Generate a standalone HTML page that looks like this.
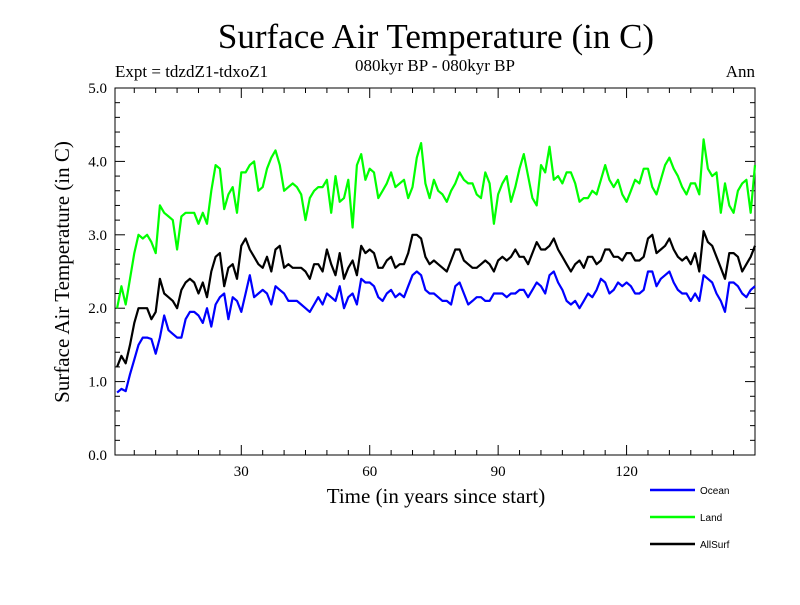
<!DOCTYPE html>
<html><head><meta charset="utf-8"><style>
body{margin:0;background:#fff;}
svg text{font-family:"Liberation Serif",serif;}
</style></head><body>
<svg id="chart" width="800" height="600" xmlns="http://www.w3.org/2000/svg">
<text x="436" y="48" font-size="35" text-anchor="middle">Surface Air Temperature (in C)</text>
<text x="115" y="77" font-size="17">Expt = tdzdZ1-tdxoZ1</text>
<text x="435" y="71" font-size="17" text-anchor="middle">080kyr BP - 080kyr BP</text>
<text x="755" y="77" font-size="17" text-anchor="end">Ann</text>
<text x="436" y="503" font-size="21" text-anchor="middle">Time (in years since start)</text>
<text transform="translate(69,272) rotate(-90)" font-size="21" text-anchor="middle">Surface Air Temperature (in C)</text>
<g id="axes"></g>
<g id="series"></g>
<g id="legend"></g>
</svg>
<script>
const yTicks=[0,1,2,3,4,5];
const yTickLabels=["0.0","1.0","2.0","3.0","4.0","5.0"];
const xTicks=[30,60,90,120];
const xTickLabels=["30","60","90","120"];
const seriesNames=["Ocean","Land","AllSurf"];
const seriesColors=["#0000ff","#00ff00","#000000"];
const ocean=[0.85,0.9,0.87,1.1,1.3,1.5,1.6,1.6,1.58,1.38,1.6,1.9,1.7,1.65,1.6,1.6,1.85,1.95,1.95,1.9,1.8,2.0,1.75,2.05,2.15,2.2,1.85,2.15,2.1,1.95,2.2,2.45,2.15,2.2,2.25,2.2,2.05,2.3,2.25,2.2,2.1,2.1,2.1,2.05,2.0,1.95,2.05,2.15,2.05,2.2,2.15,2.1,2.3,2.0,2.15,2.2,2.05,2.4,2.35,2.35,2.3,2.15,2.1,2.2,2.25,2.15,2.2,2.15,2.3,2.45,2.5,2.45,2.25,2.2,2.2,2.15,2.1,2.1,2.05,2.3,2.35,2.2,2.05,2.1,2.15,2.15,2.1,2.1,2.2,2.2,2.2,2.15,2.2,2.2,2.25,2.25,2.15,2.25,2.35,2.3,2.2,2.45,2.5,2.35,2.25,2.1,2.05,2.1,2.0,2.1,2.2,2.15,2.25,2.4,2.35,2.2,2.25,2.35,2.3,2.35,2.3,2.2,2.2,2.25,2.5,2.5,2.3,2.4,2.45,2.5,2.35,2.25,2.2,2.2,2.1,2.2,2.1,2.45,2.4,2.35,2.2,2.1,1.95,2.35,2.35,2.3,2.2,2.15,2.25,2.3];
const land=[2.0,2.3,2.05,2.4,2.75,3.0,2.95,3.0,2.9,2.75,3.4,3.3,3.25,3.2,2.8,3.25,3.3,3.3,3.3,3.15,3.3,3.15,3.6,3.95,3.9,3.35,3.55,3.65,3.3,3.85,3.85,3.95,4.0,3.6,3.65,3.9,4.05,4.15,3.95,3.6,3.65,3.7,3.65,3.55,3.2,3.5,3.6,3.65,3.65,3.75,3.3,3.8,3.45,3.5,3.75,3.1,3.95,4.1,3.75,3.9,3.85,3.5,3.6,3.7,3.85,3.65,3.7,3.75,3.5,3.65,4.05,4.25,3.7,3.5,3.75,3.6,3.55,3.45,3.6,3.7,3.85,3.75,3.7,3.7,3.55,3.5,3.85,3.7,3.15,3.55,3.7,3.8,3.45,3.65,3.9,4.1,3.8,3.5,3.4,3.95,3.85,4.2,3.75,3.8,3.7,3.85,3.85,3.7,3.45,3.5,3.5,3.6,3.55,3.75,3.95,3.75,3.65,3.75,3.55,3.45,3.6,3.75,3.7,3.9,3.9,3.65,3.55,3.75,3.95,4.05,3.9,3.8,3.65,3.55,3.7,3.7,3.55,4.3,3.9,3.8,3.85,3.3,3.7,3.4,3.3,3.6,3.7,3.75,3.3,3.95];
const allsurf=[1.2,1.35,1.25,1.5,1.8,2.0,2.0,2.0,1.85,1.95,2.4,2.2,2.15,2.1,2.0,2.25,2.35,2.4,2.35,2.2,2.35,2.15,2.5,2.7,2.75,2.3,2.55,2.6,2.4,2.85,2.95,2.8,2.7,2.6,2.55,2.7,2.5,2.8,2.85,2.55,2.6,2.55,2.55,2.55,2.5,2.4,2.6,2.6,2.5,2.8,2.6,2.45,2.75,2.4,2.55,2.65,2.45,2.85,2.75,2.8,2.75,2.55,2.55,2.65,2.7,2.55,2.6,2.6,2.75,3.0,3.0,2.95,2.7,2.6,2.65,2.6,2.55,2.5,2.65,2.8,2.8,2.65,2.6,2.55,2.55,2.6,2.65,2.6,2.5,2.65,2.7,2.65,2.7,2.8,2.7,2.7,2.6,2.75,2.9,2.8,2.8,2.85,2.95,2.8,2.7,2.6,2.5,2.6,2.65,2.55,2.7,2.7,2.6,2.65,2.8,2.8,2.7,2.7,2.65,2.75,2.75,2.65,2.65,2.7,2.95,3.0,2.75,2.8,2.85,2.95,2.8,2.7,2.65,2.7,2.6,2.75,2.5,3.05,2.9,2.85,2.7,2.55,2.4,2.75,2.75,2.7,2.5,2.6,2.7,2.85];
const allSeries=[ocean,land,allsurf];

const NS="http://www.w3.org/2000/svg";
const L=115,R=755,T=88,B=455;
const xMin=0.5,xMax=150,yMin=0,yMax=5;
function xs(v){return L+(v-xMin)/(xMax-xMin)*(R-L);}
function ys(v){return B-(v-yMin)/(yMax-yMin)*(B-T);}
function mk(tag,attrs,parent){const e=document.createElementNS(NS,tag);for(const k in attrs)e.setAttribute(k,attrs[k]);parent.appendChild(e);return e;}
const axes=document.getElementById('axes');
const frame=mk('rect',{x:L,y:T,width:R-L,height:B-T,fill:'none',stroke:'#000','stroke-width':1},axes);


for(let v=0;v<=5.0001;v+=0.2){
  const major=Math.abs(v-Math.round(v))<1e-6;const len=major?10:5;const y=ys(v);
  const t1=mk('line',{x1:L,x2:L+len,y1:y,y2:y,stroke:'#000'},axes);
  
  
  const t2=mk('line',{x1:R,x2:R-len,y1:y,y2:y,stroke:'#000'},axes);
  
  
}
yTicks.forEach((v,i)=>{
  const t=mk('text',{x:L-8,y:ys(v)+5,'font-size':15,'text-anchor':'end'},axes);t.textContent=yTickLabels[i];
  
  
});
for(let v=5;v<=150;v+=5){
  const major=v%30===0;const len=major?10:5;const x=xs(v);
  const t1=mk('line',{x1:x,x2:x,y1:B,y2:B-len,stroke:'#000'},axes);
  
  
  const t2=mk('line',{x1:x,x2:x,y1:T,y2:T+len,stroke:'#000'},axes);
  
  
}
xTicks.forEach((v,i)=>{
  const t=mk('text',{x:xs(v),y:B+21,'font-size':15,'text-anchor':'middle'},axes);t.textContent=xTickLabels[i];
  
  
});
const sg=document.getElementById('series');
allSeries.forEach((arr,si)=>{
  const pts=arr.map((v,i)=>xs(i+1).toFixed(1)+','+ys(v).toFixed(1)).join(' ');
  const p=mk('polyline',{points:pts,fill:'none',stroke:seriesColors[si],'stroke-width':2.2,'stroke-linejoin':'round'},sg);
  
  
});
const lg=document.getElementById('legend');
seriesNames.forEach((n,i)=>{
  const y=490+i*27;
  const ln=mk('line',{x1:650,x2:695,y1:y,y2:y,stroke:seriesColors[i],'stroke-width':2.5},lg);
  
  
  const t=mk('text',{x:700,y:y+4,'font-size':10,style:'font-family:"Liberation Sans",sans-serif'},lg);t.textContent=n;
  
  
});
</script>
</body></html>
